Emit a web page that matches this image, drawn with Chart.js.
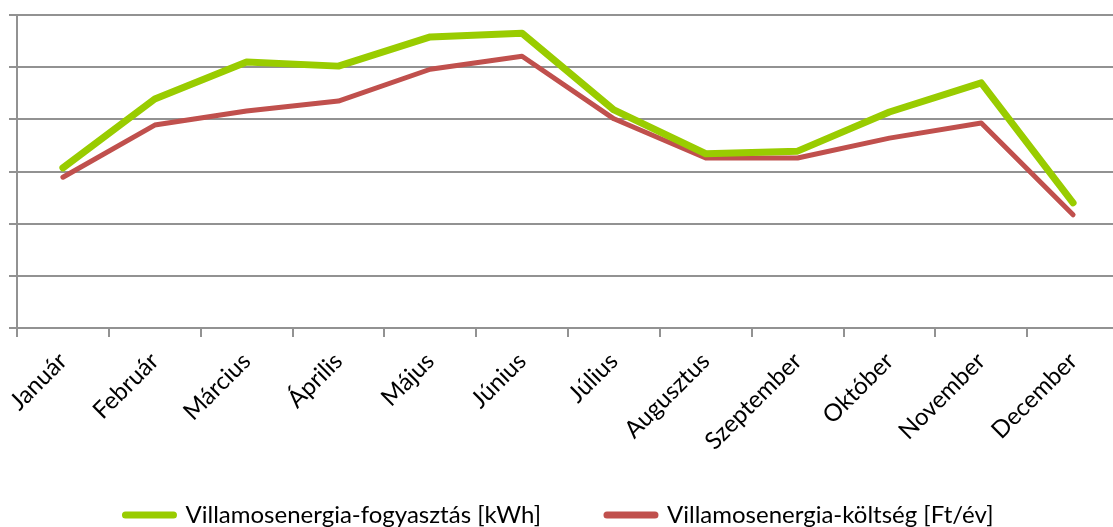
<!DOCTYPE html>
<html>
<head>
<meta charset="utf-8">
<script src="https://cdn.jsdelivr.net/npm/chart.js@4"></script>
<style>
html,body{margin:0;padding:0;overflow:hidden;background:#fff;}
canvas{display:block;}
</style>
</head>
<body>
<canvas id="c" width="1125" height="537"></canvas>
<script>
const months = ["Január","Február","Március","Április","Május","Június","Július","Augusztus","Szeptember","Október","November","December"];
const consumption = [3.07,4.39,5.10,5.02,5.58,5.65,4.18,3.34,3.39,4.14,4.70,2.40];
const cost = [2.89,3.89,4.16,4.35,4.96,5.21,4.01,3.26,3.26,3.64,3.93,2.17];
const seriesNames = ["Villamosenergia-fogyasztás [kWh]","Villamosenergia-költség [Ft/év]"];
const yTicks = [0,1,2,3,4,5,6];

const gridColor = '#929292';
const fontFamily = 'Lato, "Open Sans", sans-serif';

new Chart(document.getElementById('c'), {
  type: 'line',
  data: {
    labels: months,
    datasets: [
      {label: seriesNames[0], data: consumption, borderColor: '#99CC00', backgroundColor: '#99CC00', borderWidth: 7, pointRadius: 0, tension: 0, borderCapStyle: 'round', borderJoinStyle: 'round'},
      {label: seriesNames[1], data: cost, borderColor: '#C0504D', backgroundColor: '#C0504D', borderWidth: 5, pointRadius: 0, tension: 0, borderCapStyle: 'round', borderJoinStyle: 'round'}
    ]
  },
  options: {
    responsive: false,
    animation: false,
    devicePixelRatio: 1,
    layout: {padding: {top: 15, left: 0, right: 6, bottom: 0}},
    plugins: {
      tooltip: {enabled: false},
      legend: {
        position: 'bottom',
        labels: {
          font: {family: fontFamily, size: 24},
          color: '#000',
          padding: 66,
          boxWidth: 48,
          boxHeight: 0,
          generateLabels(chart) {
            return chart.data.datasets.map((ds, i) => ({
              text: ds.label,
              fillStyle: ds.borderColor,
              strokeStyle: ds.borderColor,
              lineWidth: 7,
              lineCap: 'round',
              lineJoin: 'round',
              fontColor: '#000',
              hidden: false,
              datasetIndex: i
            }));
          }
        }
      }
    },
    scales: {
      x: {
        offset: true,
        grid: {offset: true, drawOnChartArea: false, drawTicks: true, tickLength: 9, color: gridColor, lineWidth: 2},
        border: {display: true, color: gridColor, width: 2},
        ticks: {autoSkip: false, minRotation: 45, maxRotation: 45, color: '#000', font: {family: fontFamily, size: 24}, padding: 10},
        afterFit(scale) {
          scale.height = 109;
          // let the rotated labels run past the axis box, as in the original
          scale._computeLabelArea = function () { return undefined; };
        }
      },
      y: {
        min: 0, max: 6,
        afterBuildTicks(scale) { scale.ticks = yTicks.map(v => ({value: v})); },
        grid: {color: gridColor, lineWidth: 2, tickLength: 8, drawTicks: true},
        border: {display: true, color: gridColor, width: 2},
        ticks: {display: false},
        afterFit(scale) { scale.width = 17; }
      }
    }
  }
});
</script>
</body>
</html>
